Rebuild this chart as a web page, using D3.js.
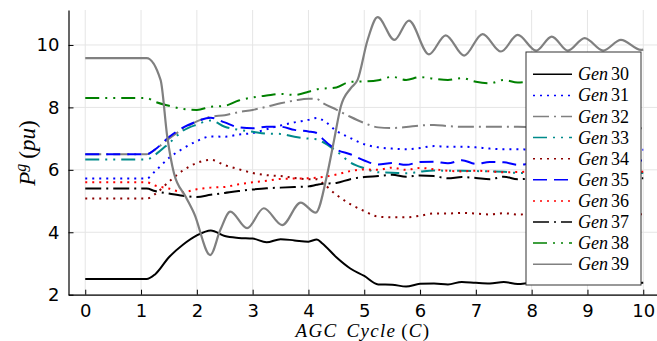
<!DOCTYPE html>
<html>
<head>
<meta charset="utf-8">
<script src="https://cdn.jsdelivr.net/npm/d3@7"></script>
<style>
  body { margin: 0; background: #fff; }
  svg { display: block; }
  .tick text { font-family: "DejaVu Sans", sans-serif; font-size: 18px; fill: #000; }
  .math { font-family: "Liberation Serif", "Times New Roman", serif; }
</style>
</head>
<body>
<svg id="chart" width="657" height="341"></svg>
<script>
// AGC cycle sample points shared by Gen30..Gen38
const cycles = [0, 0.5, 1, 1.1, 1.25, 1.5, 1.75, 2, 2.25, 2.5, 2.75, 3, 3.25, 3.5, 3.75, 4, 4.15, 4.25,
  4.5, 4.75, 5, 5.25, 5.5, 5.75, 6, 6.25, 6.5, 6.75, 7, 7.25, 7.5, 7.75, 8, 8.5, 9, 9.5, 10];

const gen30 = [2.5, 2.5, 2.5, 2.5, 2.65, 3.2, 3.6, 3.9, 4.06, 3.88, 3.82, 3.8, 3.68, 3.78, 3.74, 3.7, 3.77, 3.64,
  3.2, 2.84, 2.6, 2.33, 2.32, 2.26, 2.35, 2.36, 2.33, 2.41, 2.38, 2.36, 2.41, 2.34, 2.38, 2.37, 2.38, 2.37, 2.38];
const gen31 = [5.72, 5.72, 5.72, 5.72, 5.95, 6.38, 6.68, 6.92, 7.07, 7.06, 7.13, 7.18, 7.3, 7.42, 7.52, 7.6, 7.66, 7.6,
  7.25, 7.02, 6.82, 6.72, 6.68, 6.66, 6.7, 6.76, 6.74, 6.74, 6.72, 6.68, 6.66, 6.66, 6.65, 6.65, 6.64, 6.64, 6.64];
const gen32 = [6.5, 6.5, 6.5, 6.5, 6.65, 7.0, 7.3, 7.55, 7.7, 7.75, 7.85, 7.92, 8.02, 8.13, 8.22, 8.28, 8.27, 8.15,
  7.93, 7.7, 7.5, 7.36, 7.34, 7.37, 7.42, 7.44, 7.4, 7.38, 7.38, 7.38, 7.38, 7.38, 7.37, 7.36, 7.35, 7.34, 7.33];
const gen33 = [6.33, 6.33, 6.33, 6.33, 6.48, 6.85, 7.25, 7.45, 7.58, 7.38, 7.28, 7.22, 7.16, 7.15, 7.06, 7.0, 6.98, 6.9,
  6.6, 6.24, 6.05, 5.92, 5.91, 5.89, 5.94, 5.98, 5.97, 5.97, 5.96, 5.95, 5.94, 5.9, 5.9, 5.9, 5.9, 5.9, 5.9];
const gen34 = [5.08, 5.08, 5.08, 5.08, 5.22, 5.62, 5.98, 6.22, 6.32, 6.15, 6.02, 5.9, 5.83, 5.8, 5.74, 5.7, 5.7, 5.58,
  5.2, 4.9, 4.68, 4.5, 4.48, 4.48, 4.53, 4.6, 4.6, 4.62, 4.6, 4.57, 4.61, 4.57, 4.58, 4.58, 4.58, 4.58, 4.58];
const gen35 = [6.5, 6.5, 6.5, 6.5, 6.65, 7.05, 7.35, 7.55, 7.67, 7.52, 7.36, 7.33, 7.38, 7.38, 7.28, 7.23, 7.18, 7.0,
  6.65, 6.5, 6.3, 6.17, 6.22, 6.16, 6.25, 6.26, 6.21, 6.31, 6.19, 6.25, 6.24, 6.16, 6.2, 6.22, 6.25, 6.27, 6.3];
const gen36 = [5.6, 5.6, 5.6, 5.6, 5.5, 5.4, 5.28, 5.38, 5.43, 5.45, 5.54, 5.6, 5.65, 5.71, 5.72, 5.73, 5.75, 5.77,
  5.85, 5.96, 6.01, 6.0, 6.07, 6.0, 6.06, 6.02, 5.97, 5.95, 5.97, 5.95, 5.92, 5.93, 5.94, 5.94, 5.94, 5.94, 5.94];
const gen37 = [5.4, 5.4, 5.4, 5.4, 5.32, 5.24, 5.17, 5.13, 5.2, 5.26, 5.32, 5.37, 5.41, 5.43, 5.45, 5.47, 5.52, 5.55,
  5.58, 5.7, 5.77, 5.8, 5.84, 5.78, 5.82, 5.8, 5.73, 5.77, 5.74, 5.7, 5.78, 5.7, 5.72, 5.73, 5.73, 5.73, 5.73];
const gen38 = [8.3, 8.3, 8.3, 8.3, 8.18, 8.05, 7.95, 7.92, 8.02, 8.05, 8.22, 8.32, 8.38, 8.43, 8.4, 8.5, 8.58, 8.6,
  8.64, 8.82, 8.83, 8.87, 8.98, 8.88, 8.97, 8.92, 8.88, 8.94, 8.82, 8.77, 8.88, 8.8, 8.83, 8.83, 8.83, 8.83, 8.83];

// Gen39 oscillates faster, so it has its own sample points
const cycles39 = [0, 1.1, 1.35, 1.47, 1.59, 1.8, 1.95, 2.24, 2.42, 2.6, 2.9, 3.2, 3.53, 3.86, 4.13, 4.34, 4.46,
  4.58, 4.76, 4.88, 5.06, 5.24, 5.54, 5.8, 6.16, 6.46, 6.79, 7.12, 7.45, 7.75, 8.08, 8.36, 8.65, 8.95, 9.28, 9.6, 9.96, 10];
const gen39 = [9.58, 9.58, 8.88, 7.06, 5.89, 5.14, 4.61, 3.27, 4.07, 4.66, 4.13, 4.77, 4.23, 4.95, 4.63, 5.89, 6.96,
  8.03, 8.62, 8.88, 10.16, 10.89, 10.16, 10.78, 9.7, 10.31, 9.66, 10.35, 9.79, 10.32, 9.82, 10.27, 9.82, 10.22, 9.82, 10.16, 9.84, 9.85];

const genNames = ['Gen30', 'Gen31', 'Gen32', 'Gen33', 'Gen34', 'Gen35', 'Gen36', 'Gen37', 'Gen38', 'Gen39'];
const xTicks = [0, 1, 2, 3, 4, 5, 6, 7, 8, 9, 10];
const yTicks = [2, 4, 6, 8, 10];

const series = [
  {name: genNames[0], xs: cycles, ys: gen30, color: '#000000', dash: null, w: 2},
  {name: genNames[1], xs: cycles, ys: gen31, color: '#0000ff', dash: '2,5', w: 2},
  {name: genNames[2], xs: cycles, ys: gen32, color: '#808080', dash: '16,5,2,5', w: 2},
  {name: genNames[3], xs: cycles, ys: gen33, color: '#008b8b', dash: '14,6,2,6,2,6', w: 2},
  {name: genNames[4], xs: cycles, ys: gen34, color: '#8b0000', dash: '2,5', w: 2},
  {name: genNames[5], xs: cycles, ys: gen35, color: '#0000ff', dash: '14,7', w: 2},
  {name: genNames[6], xs: cycles, ys: gen36, color: '#ff0000', dash: '2,5', w: 2},
  {name: genNames[7], xs: cycles, ys: gen37, color: '#000000', dash: '16,5,2,5', w: 2},
  {name: genNames[8], xs: cycles, ys: gen38, color: '#008000', dash: '14,6,2,6,2,6', w: 2},
  {name: genNames[9], xs: cycles39, ys: gen39, color: '#808080', dash: null, w: 2.2}
];

const svg = d3.select('#chart');
const plotLeft = 68.5, plotRight = 660, plotTop = 10, plotBottom = 294.7;

const x = d3.scaleLinear().domain([-0.3, 10.3]).range([plotLeft, plotRight]);
const y = d3.scaleLinear().domain([2, 11.12]).range([plotBottom, plotTop]);

// grid
const grid = svg.append('g').attr('stroke', '#e5e5e5').attr('stroke-width', 1);
grid.selectAll('.gx').data(xTicks).enter().append('line')
  .attr('x1', d => x(d)).attr('x2', d => x(d)).attr('y1', plotTop).attr('y2', plotBottom);
grid.selectAll('.gy').data(yTicks).enter().append('line')
  .attr('x1', plotLeft).attr('x2', plotRight).attr('y1', d => y(d)).attr('y2', d => y(d));

// axes, ticks pointing into the plot
const xAxis = svg.append('g').attr('transform', `translate(0,${plotBottom})`)
  .call(d3.axisBottom(x).tickValues(xTicks).tickFormat(d3.format('d')).tickSizeInner(-5).tickSizeOuter(0).tickPadding(10));
const yAxis = svg.append('g').attr('transform', `translate(${plotLeft},0)`)
  .call(d3.axisLeft(y).tickValues(yTicks).tickFormat(d3.format('d')).tickSizeInner(-5).tickSizeOuter(0).tickPadding(9));
[xAxis, yAxis].forEach(a => {
  a.select('.domain').attr('stroke', '#000').attr('stroke-width', 1.2);
  a.selectAll('.tick line').attr('stroke', '#000').attr('stroke-width', 1);
});

// lines
const line = d3.line().curve(d3.curveMonotoneX);
const plot = svg.append('g');
series.forEach(s => {
  plot.append('path')
    .attr('d', line(s.xs.map((c, i) => [x(c), y(s.ys[i])])))
    .attr('fill', 'none')
    .attr('stroke', s.color)
    .attr('stroke-width', s.w)
    .attr('stroke-dasharray', s.dash)
    .attr('stroke-linejoin', 'round');
});

// legend
const lg = svg.append('g');
lg.append('rect').attr('x', 526).attr('y', 52).attr('width', 115).attr('height', 233)
  .attr('fill', '#fff').attr('stroke', '#333').attr('stroke-width', 1);
series.forEach((s, i) => {
  const ly = 74.3 + i * 21.1;
  lg.append('line').attr('x1', 533).attr('x2', 572).attr('y1', ly).attr('y2', ly)
    .attr('stroke', s.color).attr('stroke-width', 1.5).attr('stroke-dasharray', s.dash);
  const t = lg.append('text').attr('class', 'math').attr('x', 578).attr('y', ly + 6)
    .attr('font-size', 18);
  t.append('tspan').attr('font-style', 'italic').text(s.name.slice(0, 3));
  t.append('tspan').attr('dx', 3).text(s.name.slice(3));
});

// axis labels
const xl = svg.append('text').attr('class', 'math').attr('x', 363).attr('y', 337)
  .attr('text-anchor', 'middle').attr('font-size', 19).attr('font-style', 'italic')
  .attr('letter-spacing', 1.3).attr('word-spacing', 3);
xl.append('tspan').text('AGC Cycle');
xl.append('tspan').attr('dx', 5).attr('font-style', 'normal').text('(');
xl.append('tspan').text('C');
xl.append('tspan').attr('font-style', 'normal').text(')');

const yl = svg.append('text').attr('class', 'math')
  .attr('transform', 'translate(35,153) rotate(-90)')
  .attr('text-anchor', 'middle').attr('font-size', 23);
yl.append('tspan').attr('font-style', 'italic').text('P');
yl.append('tspan').attr('font-style', 'italic').attr('font-size', 16).attr('dy', -9).text('g');
yl.append('tspan').attr('dy', 9).attr('dx', 5).text('(');
yl.append('tspan').attr('font-style', 'italic').text('pu');
yl.append('tspan').text(')');
</script>
</body>
</html>
